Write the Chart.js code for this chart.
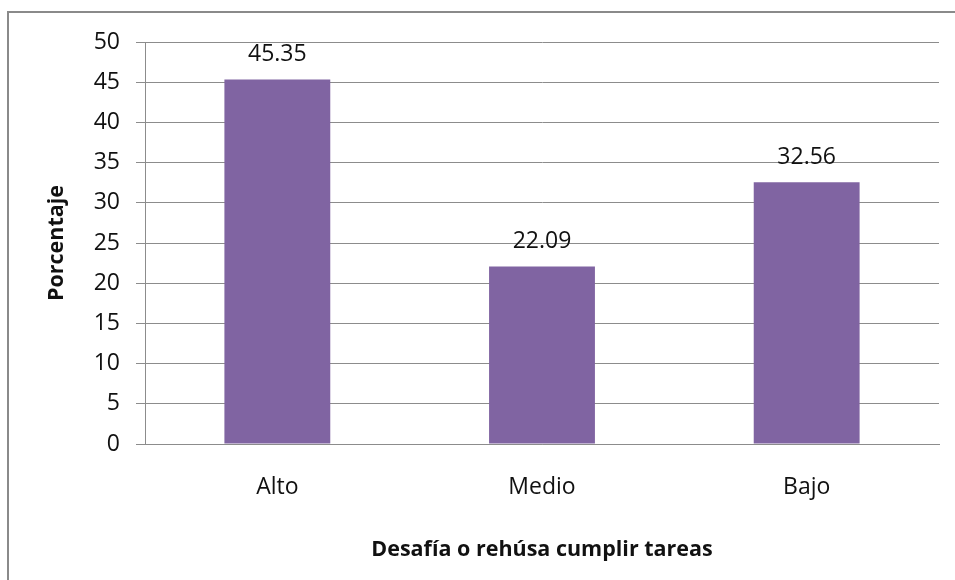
<!DOCTYPE html>
<html>
<head>
<meta charset="utf-8">
<script src="https://cdn.jsdelivr.net/npm/chart.js@4"></script>
<style>
    html, body { margin: 0; padding: 0; background: #fff; overflow: hidden; }
    #frame {
        position: absolute; left: 7px; top: 11px;
        width: 1200px; height: 900px;
        border: 2px solid #8a8a8a; box-sizing: border-box;
    }
    #wrap { position: absolute; left: 0; top: 0; width: 955px; height: 580px; }
</style>
</head>
<body>
<div id="frame"></div>
<div id="wrap"><canvas id="mainChart" width="955" height="580"></canvas></div>
<script>
// ========== 데이터 ==========
const categories = ['Alto', 'Medio', 'Bajo'];
const percentValues = [45.35, 22.09, 32.56];
const yTicks = [0, 5, 10, 15, 20, 25, 30, 35, 40, 45, 50];

const FONT = '"Open Sans", sans-serif';
const GRID = '#8c8c8c';

// 막대 위 값 표시
const valueLabels = {
    id: 'valueLabels',
    afterDatasetsDraw(chart) {
        const ctx = chart.ctx;
        const meta = chart.getDatasetMeta(0);
        ctx.save();
        ctx.font = '23px ' + FONT;
        ctx.fillStyle = '#111';
        ctx.textAlign = 'center';
        ctx.textBaseline = 'alphabetic';
        for (let i = 0; i < meta.data.length; i++) {
            const bar = meta.data[i];
            ctx.fillText(percentValues[i].toFixed(2), bar.x, bar.y - 18);
        }
        ctx.restore();
    }
};

const ctx = document.getElementById('mainChart');
new Chart(ctx, {
    type: 'bar',
    data: {
        labels: categories,
        datasets: [{
            data: percentValues,
            backgroundColor: '#8064a2',
            borderWidth: 0,
            barPercentage: 0.4,
            categoryPercentage: 1.0
        }]
    },
    options: {
        responsive: false,
        animation: false,
        layout: { padding: { top: 42, right: 16, left: 0, bottom: 0 } },
        plugins: { legend: { display: false }, tooltip: { enabled: false } },
        scales: {
            x: {
                grid: { display: false },
                border: { display: true, color: GRID, width: 1 },
                ticks: { color: '#111', font: { family: FONT, size: 23 }, padding: 22 },
                title: {
                    display: true,
                    text: 'Desafía o rehúsa cumplir tareas',
                    color: '#111',
                    font: { family: FONT, size: 21.5, weight: 'bold' },
                    padding: { top: 0, bottom: 17 }
                },
                afterFit(scale) { scale.height = 136; }
            },
            y: {
                min: 0,
                max: 50,
                afterBuildTicks(scale) {
                    scale.ticks = yTicks.map(v => ({ value: v }));
                },
                grid: { color: GRID, lineWidth: 1, tickLength: 9 },
                border: { display: true, color: GRID, width: 1 },
                ticks: { color: '#111', font: { family: FONT, size: 23 }, padding: 16 },
                title: {
                    display: true,
                    text: 'Porcentaje',
                    color: '#111',
                    font: { family: FONT, size: 21.5, weight: 'bold' },
                    padding: { top: 44, bottom: 0 }
                },
                afterFit(scale) { scale.width = 145; }
            }
        }
    },
    plugins: [valueLabels]
});
</script>
</body>
</html>
